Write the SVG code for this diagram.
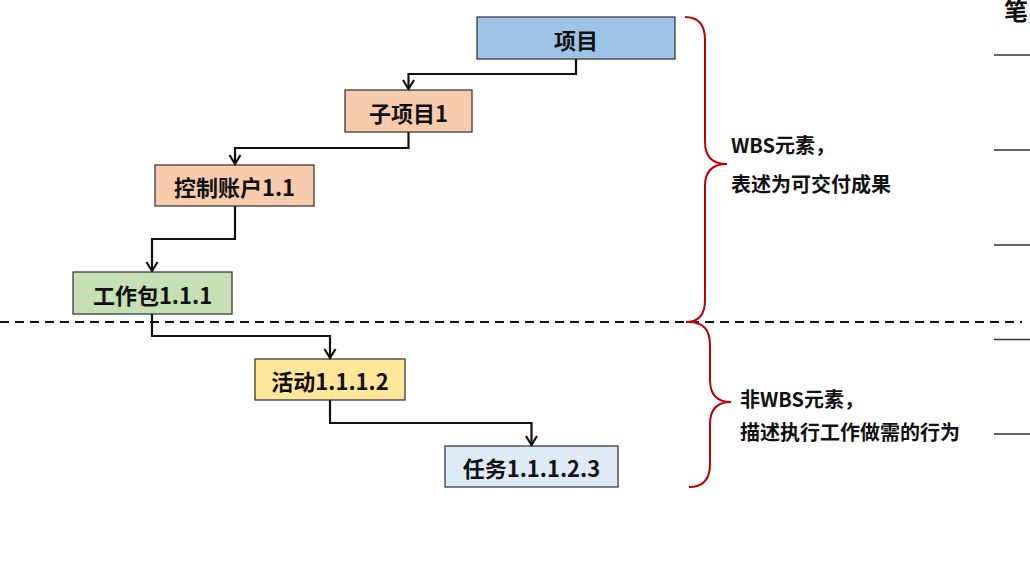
<svg xmlns="http://www.w3.org/2000/svg" width="1030" height="565" viewBox="0 0 1030 565">
<defs>
<style>
.box{stroke:#3a3a3a;stroke-width:1.3}
.lbl{font-family:"Noto Sans CJK SC","Noto Sans",sans-serif;font-weight:bold;font-size:22px;fill:#111;text-anchor:middle;dominant-baseline:central}
.note{font-family:"Noto Sans CJK SC","Noto Sans",sans-serif;font-weight:bold;font-size:20px;fill:#111}
.conn{fill:none;stroke:#111;stroke-width:2.2;marker-end:url(#arr)}
.brace{fill:none;stroke:#C00000;stroke-width:2}
.rl{stroke:#333;stroke-width:1.3}
</style>
<marker id="arr" markerWidth="14" markerHeight="14" refX="0" refY="0" orient="auto" markerUnits="userSpaceOnUse" viewBox="-12 -7 14 14" overflow="visible">
<path d="M-9,-5.5 L0,0 L-9,5.5" fill="none" stroke="#111" stroke-width="2.2"/>
</marker>
</defs>
<rect width="1030" height="565" fill="#fff"/>

<g id="n-project"><rect class="box" x="477" y="17" width="198" height="42" fill="#9DC3E6"/><text class="lbl" x="576" y="39">项目</text></g>
<g id="n-sub"><rect class="box" x="345" y="90" width="127" height="42" fill="#F8CBAD"/><text class="lbl" x="408.5" y="112">子项目1</text></g>
<g id="n-ctrl"><rect class="box" x="155" y="165" width="159" height="41" fill="#F8CBAD"/><text class="lbl" x="234.5" y="186">控制账户1.1</text></g>
<g id="n-wp"><rect class="box" x="73" y="272" width="159" height="42" fill="#C5E0B4"/><text class="lbl" x="152.5" y="294">工作包1.1.1</text></g>
<g id="n-act"><rect class="box" x="255" y="359" width="150" height="41" fill="#FFE699"/><text class="lbl" x="330" y="380">活动1.1.1.2</text></g>
<g id="n-task"><rect class="box" x="445" y="446" width="173" height="41" fill="#DEEBF7"/><text class="lbl" x="531.5" y="467">任务1.1.1.2.3</text></g>

<g id="connectors">
<path class="conn" d="M576,59 V74 H408.5 V89"/>
<path class="conn" d="M408.5,132 V148 H235 V164"/>
<path class="conn" d="M235,206 V239 H152 V271"/>
<path class="conn" d="M152,314 V336 H330 V358"/>
<path class="conn" d="M330,400 V423 H531.5 V445"/>
</g>

<line x1="0" y1="322" x2="1022" y2="322" stroke="#111" stroke-width="2" stroke-dasharray="9,6"/>

<g id="brace-wbs">
<path class="brace" d="M685,17 Q705,17 705,40 L705,142 Q705,164 727,164 Q705,164 705,186 L705,300 Q705,322 686,322"/>
<text class="note" x="731" y="153">WBS元素，</text>
<text class="note" x="731" y="192">表述为可交付成果</text>
</g>
<g id="brace-nonwbs">
<path class="brace" d="M689,322 Q710,322 710,345 L710,380 Q710,402 731,402 Q710,402 710,424 L710,464 Q710,487 689,487"/>
<text class="note" x="740" y="407">非WBS元素，</text>
<text class="note" x="740" y="440">描述执行工作做需的行为</text>
</g>

<g id="right-edge">
<text class="note" x="1004" y="20" style="font-size:24px">笔</text>
<line class="rl" x1="994" y1="55" x2="1030" y2="55"/>
<line class="rl" x1="994" y1="150" x2="1030" y2="150"/>
<line class="rl" x1="994" y1="245" x2="1030" y2="245"/>
<line class="rl" x1="994" y1="339.5" x2="1030" y2="339.5"/>
<line class="rl" x1="994" y1="434" x2="1030" y2="434"/>
</g>
</svg>
